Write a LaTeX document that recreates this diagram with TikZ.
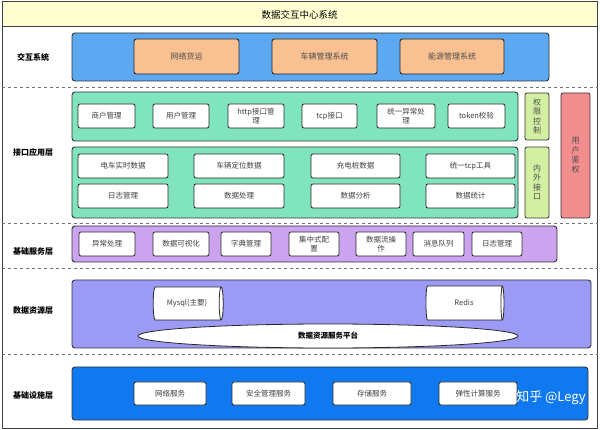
\documentclass[tikz,border=0pt]{standalone}
\usepackage{fontspec}
\setmainfont{Noto Sans CJK SC}
\usepackage{tikz}
\usetikzlibrary{shapes.geometric}

\definecolor{titlefill}{HTML}{FFFFD2}
\definecolor{bandblue}{HTML}{5CA9F1}
\definecolor{peach}{HTML}{F9C192}
\definecolor{mint}{HTML}{80E4BF}
\definecolor{lime}{HTML}{D3F0A2}
\definecolor{rosered}{HTML}{F38E8E}
\definecolor{lilac}{HTML}{CBA3F1}
\definecolor{periwinkle}{HTML}{9B9BF6}
\definecolor{infrablue}{HTML}{1179EF}

\begin{document}
\begin{tikzpicture}[x=1pt,y=-1pt,
frame/.style={draw=black!75,line width=1pt,inner sep=0pt},
titlebar/.style={draw=black!75,line width=1pt,fill=titlefill,font=\fontsize{9.5}{11}\selectfont},
layer/.style={font=\bfseries\fontsize{8}{9}\selectfont},
band/.style={draw=black!80,line width=0.9pt,rounded corners=3pt,inner sep=0pt},
item/.style={draw=black!85,line width=0.8pt,fill=white,rounded corners=2pt,align=center,inner sep=1pt,font=\fontsize{7.5}{8.5}\selectfont,text=black!75},
sysbox/.style={draw=black!85,line width=0.9pt,fill=peach,rounded corners=2.5pt,font=\fontsize{8}{9}\selectfont,text=black!70},
sidebox/.style={draw=black!80,line width=0.8pt,rounded corners=2pt,align=center,inner sep=0pt,font=\fontsize{8}{9.5}\selectfont,text=black!70},
store/.style={cylinder,draw=black!85,line width=0.8pt,fill=white,shape aspect=0.5,inner sep=0pt,font=\fontsize{7.5}{8.5}\selectfont,text=black!75},
sep/.style={dashed,draw=black!55,line width=0.6pt}]

\useasboundingbox (0,0) rectangle (600,430);

\node[frame,minimum width=595,minimum height=426](frame) at (299.5,215) {};
\node[titlebar,minimum width=595,minimum height=25](title) at (299.5,14.5) {数据交互中心系统};

% layer labels
\node[layer](lbl1) at (33,57) {交互系统};
\node[layer](lbl2) at (33,152) {接口应用层};
\node[layer](lbl3) at (33,252) {基础服务层};
\node[layer](lbl4) at (33,311) {数据资源层};
\node[layer](lbl5) at (33,395) {基础设施层};

% separators
\draw[sep] (frame.west |- 0,87) -- (frame.east |- 0,87);
\draw[sep] (frame.west |- 0,223) -- (frame.east |- 0,223);
\draw[sep] (frame.west |- 0,268) -- (frame.east |- 0,268);
\draw[sep] (frame.west |- 0,354) -- (frame.east |- 0,354);

% interaction
\node[band,fill=bandblue,minimum width=477,minimum height=48](ixband) at (310.5,57) {};
\node[sysbox,minimum width=105,minimum height=35](freight) at (186.5,56.5) {网络货运};
\node[sysbox,minimum width=105,minimum height=35](vehsys) at (324.5,56.5) {车辆管理系统};
\node[sysbox,minimum width=104,minimum height=35](energy) at (452,56.5) {能源管理系统};

% interface application
\node[band,fill=mint,minimum width=446,minimum height=49](apitop) at (295,116.5) {};
\node[item,minimum width=57,minimum height=24](merchant) at (106.5,116) {商户管理};
\node[item,minimum width=56,minimum height=24](users) at (181,116) {用户管理};
\node[item,minimum width=56,minimum height=24](httpif) at (256,116) {http接口管\\理};
\node[item,minimum width=55,minimum height=24](tcpif) at (329.5,116) {tcp接口};
\node[item,minimum width=58,minimum height=24](except) at (406,116) {统一异常处\\理};
\node[item,minimum width=57,minimum height=24](token) at (476.5,116) {token校验};

\node[band,fill=mint,minimum width=446,minimum height=71](apibot) at (295,182.5) {};
\node[item,minimum width=90,minimum height=24](evdata) at (123,166) {电车实时数据};
\node[item,minimum width=90,minimum height=24](locdata) at (239,166) {车辆定位数据};
\node[item,minimum width=89,minimum height=24](piledata) at (355.5,166) {充电桩数据};
\node[item,minimum width=89,minimum height=24](tcptool) at (470.5,166) {统一tcp工具};
\node[item,minimum width=90,minimum height=24](logs) at (123,196) {日志管理};
\node[item,minimum width=90,minimum height=24](process) at (239,196) {数据处理};
\node[item,minimum width=89,minimum height=24](analysis) at (355.5,196) {数据分析};
\node[item,minimum width=89,minimum height=24](stats) at (470.5,196) {数据统计};

\node[sidebox,fill=lime,minimum width=24,minimum height=47](perm) at (537,116.5) {权\\限\\控\\制};
\node[sidebox,fill=lime,minimum width=24,minimum height=71](inout) at (537,182.5) {内\\外\\接\\口};
\node[sidebox,fill=rosered,minimum width=29,minimum height=125](auth) at (575.5,155.5) {用\\户\\鉴\\权};

% base services
\node[band,fill=lilac,minimum width=485,minimum height=36](svcband) at (314.5,244) {};
\node[item,minimum width=56,minimum height=24](errs) at (107,244) {异常处理};
\node[item,minimum width=56,minimum height=24](visual) at (181,244) {数据可视化};
\node[item,minimum width=50,minimum height=24](dict) at (246,244) {字典管理};
\node[item,minimum width=50,minimum height=24](config) at (314,244) {集中式配\\置};
\node[item,minimum width=50,minimum height=24](stream) at (381,244) {数据流操\\作};
\node[item,minimum width=51,minimum height=24](queue) at (438.5,244) {消息队列};
\node[item,minimum width=50,minimum height=24](logsvc) at (497,244) {日志管理};

% data resources
\node[band,fill=periwinkle,minimum width=519,minimum height=68](databand) at (331.5,314) {};
\node[store,minimum width=33,minimum height=70](mysql) at (187,303.5) {Mysql(主要)};
\node[store,minimum width=34,minimum height=78](redis) at (464,303) {Redis};
\node[ellipse,draw=black!85,line width=0.8pt,fill=white,minimum width=380,minimum height=24,inner sep=0pt,font=\bfseries\fontsize{7.5}{8.5}\selectfont](platform) at (328,336) {数据资源服务平台};

% infrastructure
\node[band,fill=infrablue,minimum width=516,minimum height=53](infraband) at (330,393.5) {};
\node[item,minimum width=72,minimum height=23](netsvc) at (170,393.5) {网络服务};
\node[item,minimum width=73,minimum height=23](secsvc) at (268.5,393.5) {安全管理服务};
\node[item,minimum width=78,minimum height=23](storsvc) at (372,393.5) {存储服务};
\node[item,minimum width=78,minimum height=23](elastic) at (478,393.5) {弹性计算服务};

\node[text=white,font=\fontsize{13}{15}\selectfont,inner sep=0pt](mark) at (551,398) {知乎 @Legy};

\end{tikzpicture}
\end{document}
